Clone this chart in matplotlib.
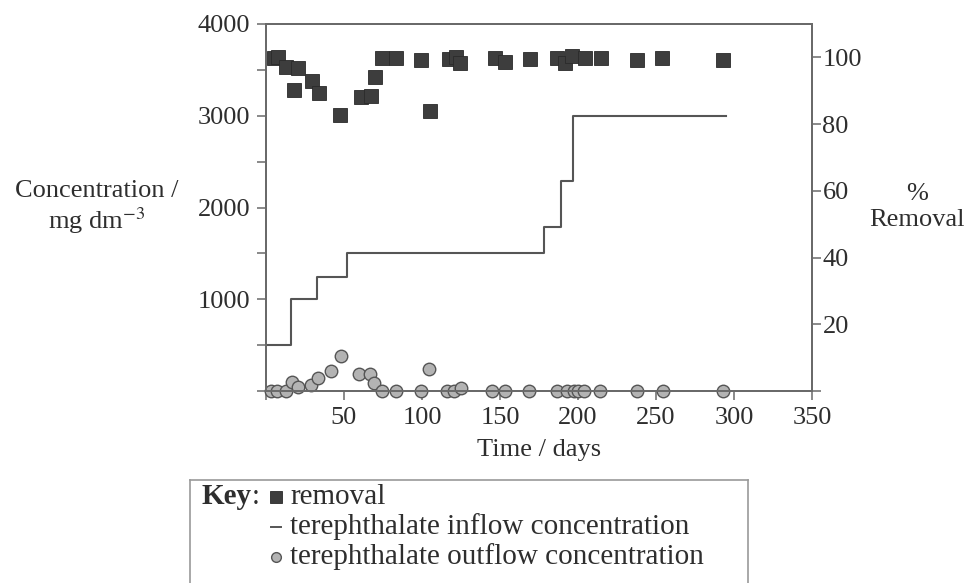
import matplotlib
matplotlib.use("Agg")
import matplotlib.pyplot as plt

plt.rcParams["font.family"] = ["Liberation Serif", "DejaVu Serif"]
plt.rcParams["mathtext.fontset"] = "stix"

# --- data ------------------------------------------------------------------
# % removal (right axis)
removal_days = [5, 8, 13, 18, 20.5, 29.5, 34, 47.5, 61, 67.5, 70, 74.5, 83.5,
                99.5, 105, 117.5, 122, 124.5, 146.5, 153, 169, 186.5, 191.5,
                196, 204.5, 215, 238, 254, 293]
removal_pct = [99.8, 100.1, 97.1, 90.2, 96.8, 92.9, 89.3, 82.7, 88.1, 88.4,
               94.1, 99.8, 99.8, 99.2, 83.9, 99.5, 100.1, 98.3, 99.8, 98.6,
               99.5, 99.8, 98.3, 100.4, 99.8, 99.8, 99.2, 99.8, 99.2]

# terephthalate inflow concentration (step line, left axis)
inflow_days = [0, 16, 33, 52, 178, 189, 197, 295]
inflow_conc = [500, 1000, 1240, 1500, 1790, 2290, 3000, 3000]

# terephthalate outflow concentration (circles, left axis)
outflow_days = [3, 7, 12.7, 16.7, 20.6, 28.7, 33.4, 41.6, 48.2, 59.8, 66.6,
                69.4, 74.6, 83.4, 99.4, 104.8, 116.3, 120.8, 125, 145, 153,
                168.6, 186.6, 193, 197.6, 200.2, 204.1, 214.4, 237.6, 254.5,
                292.9]
outflow_conc = [0, 0, 3, 100, 45, 65, 140, 220, 385, 185, 185, 85, 0, 0, 0,
                240, 0, 0, 35, 0, 0, 0, 0, 3, 0, 0, 0, 0, 5, 0, 5]

x_ticks = [0, 50, 100, 150, 200, 250, 300, 350]
x_labels = ["", "50", "100", "150", "200", "250", "300", "350"]
left_ticks = [0, 500, 1000, 1500, 2000, 2500, 3000, 3500, 4000]
left_labels = ["", "", "1000", "", "2000", "", "3000", "", "4000"]
right_ticks = [0, 20, 40, 60, 80, 100]
right_labels = ["", "20", "40", "60", "80", "100"]

SPINE = "#6a6a6a"
TEXT = "#2e2e2e"
FS = 19
KEY_FS = 21

fig = plt.figure(figsize=(9.67, 5.83), dpi=100)
ax = fig.add_axes([266 / 967, 1 - 391 / 583, (812 - 266) / 967, (391 - 24) / 583])
ax2 = ax.twinx()

ax.step(inflow_days, inflow_conc, where="post", color="#555555", lw=1.5, zorder=3)
ax.plot(outflow_days, outflow_conc, "o", ms=9, mfc="#b3b3b3", mec="#555555",
        mew=1.0, clip_on=False, zorder=5)
ax2.plot(removal_days, removal_pct, "s", ms=10, mfc="#3d3d3d", mec="#2a2a2a",
         mew=0.6, clip_on=False, zorder=5)

ax.set_xlim(0, 350)
ax.set_ylim(0, 4000)
ax2.set_ylim(0, 110)

ax.set_xticks(x_ticks, x_labels)
ax.set_yticks(left_ticks, left_labels)
ax2.set_yticks(right_ticks, right_labels)

for a in (ax, ax2):
    for s in a.spines.values():
        s.set_color(SPINE)
        s.set_linewidth(1.4)
ax.tick_params(axis="both", direction="out", length=6.5, width=1.1,
               color=SPINE, labelcolor=TEXT, labelsize=FS)
ax.tick_params(axis="x", pad=5)
ax.tick_params(axis="y", pad=5)
ax2.tick_params(axis="y", direction="out", length=6.5, width=1.1,
                color=SPINE, labelcolor=TEXT, labelsize=FS, pad=1)

ax.set_xlabel("Time / days", fontsize=FS, color=TEXT, labelpad=7)
fig.text(97 / 967, 1 - 208 / 583, "Concentration /\nmg dm$^{-3}$", ha="center",
         va="center", fontsize=FS, color=TEXT, linespacing=1.15)
fig.text(917 / 967, 1 - 207 / 583, "%\nRemoval", ha="center", va="center",
         fontsize=FS, color=TEXT, linespacing=1.2)

# key box, running off the bottom of the figure
kx0, kx1 = 190 / 967, 748 / 967
ktop = 1 - 480 / 583
kax = fig.add_axes([kx0, -0.05, kx1 - kx0, ktop + 0.05])
kax.set_xticks([])
kax.set_yticks([])
for s in kax.spines.values():
    s.set_color("#9a9a9a")
    s.set_linewidth(1.2)
kax.set_xlim(190, 748)
kax.set_ylim(583 + 0.05 * 583, 480)

kax.text(201, 497, "Key", fontsize=KEY_FS, fontweight="bold", color=TEXT, va="center")
kax.text(252, 497, ":", fontsize=KEY_FS, color=TEXT, va="center")
kax.plot([276], [497], "s", ms=8, mfc="#3d3d3d", mec="#2a2a2a", mew=0.6)
kax.plot([271, 281], [527, 527], color="#555555", lw=1.4)
kax.plot([276], [557], "o", ms=7, mfc="#b3b3b3", mec="#555555", mew=1.0)
kax.text(290, 497, "removal", fontsize=KEY_FS, color=TEXT, va="center")
kax.text(290, 527, "terephthalate inflow concentration", fontsize=KEY_FS,
         color=TEXT, va="center")
kax.text(290, 557, "terephthalate outflow concentration", fontsize=KEY_FS,
         color=TEXT, va="center")

fig.savefig("out.png", dpi=100)
